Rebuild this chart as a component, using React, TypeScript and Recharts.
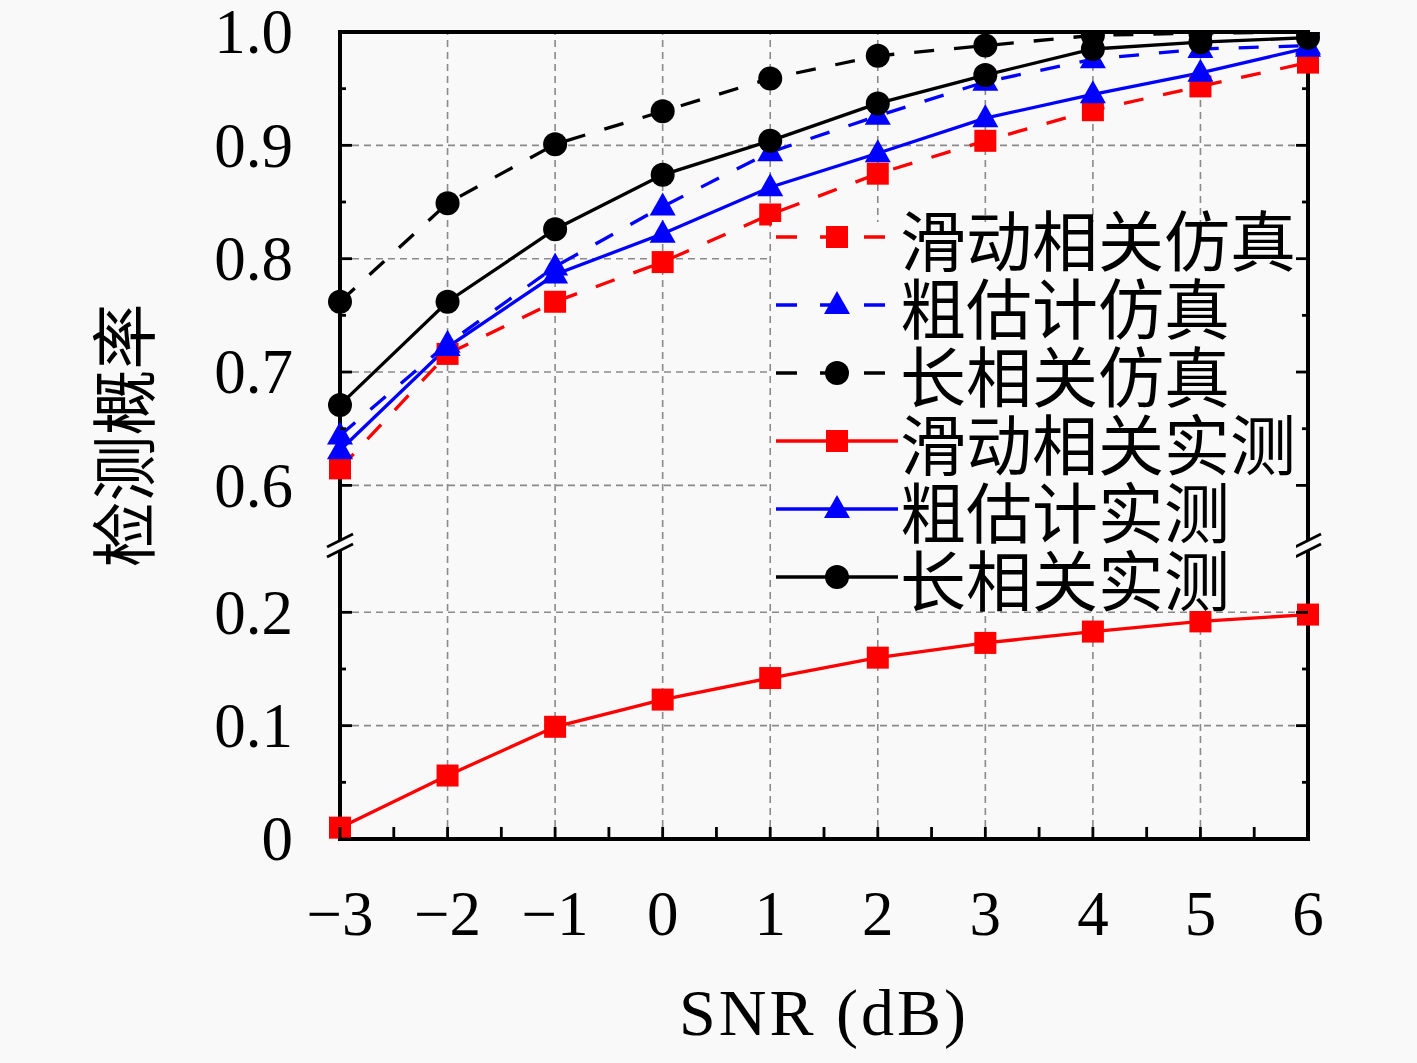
import React from 'react';
import { LineChart, Line, XAxis, YAxis, ReferenceLine, Legend } from 'recharts';

// SNR in dB
const snr = [-3, -2, -1, 0, 1, 2, 3, 4, 5, 6];

// detection probability
const slideSim = [0.615, 0.716, 0.762, 0.797, 0.839, 0.875, 0.904, 0.931, 0.952, 0.973];
const coarseSim = [0.644, 0.725, 0.793, 0.846, 0.894, 0.926, 0.956, 0.976, 0.985, 0.988];
const longSim = [0.762, 0.849, 0.901, 0.93, 0.959, 0.979, 0.988, 0.997, 0.999, 1.0];
const slideMeas = [0.01, 0.056, 0.099, 0.123, 0.142, 0.16, 0.173, 0.183, 0.192, 0.198];
const coarseMeas = [0.631, 0.722, 0.786, 0.822, 0.863, 0.893, 0.924, 0.945, 0.964, 0.986];
const longMeas = [0.671, 0.762, 0.826, 0.874, 0.904, 0.937, 0.962, 0.985, 0.991, 0.995];

const xTicks = [-3, -2.5, -2, -1.5, -1, -0.5, 0, 0.5, 1, 1.5, 2, 2.5, 3, 3.5, 4, 4.5, 5, 5.5, 6];
const xGrid = [-2, -1, 0, 1, 2, 3, 4, 5];
const yMajor = [0, 0.1, 0.2, 0.6, 0.7, 0.8, 0.9, 1.0];
const yMinor = [0.05, 0.15, 0.65, 0.75, 0.85, 0.95];
const yGrid = [0.1, 0.2, 0.6, 0.7, 0.8, 0.9];

// broken axis: the upper block is pulled down by GAP
const GAP = 0.288;
const BREAK = 0.259; // where the // marks sit, in axis units
const BREAK_HALF = 0.004;
const Y_TOP = 1.0 - GAP;
const X_MIN = -3;
const X_MAX = 6;
const toAxis = (v: number) => (v > 0.4 ? v - GAP : v);

const INK = '#000';
const BG = '#f9f9f9';
const RED = '#ff0000';
const BLUE = '#0000ff';
const GRID = '#8a8a8a';
const FRAME_W = 4;
const serif = '"Liberation Serif", "Times New Roman", serif';
const cjk = '"Noto Sans CJK SC", "Noto Sans CJK JP", sans-serif';

const series = [
  { key: 'slideSim', name: '滑动相关仿真', values: slideSim, color: RED, dashed: true, shape: 'square' },
  { key: 'coarseSim', name: '粗估计仿真', values: coarseSim, color: BLUE, dashed: true, shape: 'triangle' },
  { key: 'longSim', name: '长相关仿真', values: longSim, color: INK, dashed: true, shape: 'circle' },
  { key: 'slideMeas', name: '滑动相关实测', values: slideMeas, color: RED, dashed: false, shape: 'square' },
  { key: 'coarseMeas', name: '粗估计实测', values: coarseMeas, color: BLUE, dashed: false, shape: 'triangle' },
  { key: 'longMeas', name: '长相关实测', values: longMeas, color: INK, dashed: false, shape: 'circle' },
];

const rows = snr.map((s, i) => {
  const row: Record<string, number> = { snr: s };
  series.forEach((sr) => {
    row[sr.key] = toAxis(sr.values[i]);
  });
  return row;
});

const yTicks = [...yMajor.map(toAxis), ...yMinor.map(toAxis), BREAK].sort((a, b) => a - b);

function kindOf(t: number) {
  if (Math.abs(t - BREAK) < 1e-6) return { kind: 'break', real: 0 };
  const m = yMajor.find((v) => Math.abs(toAxis(v) - t) < 1e-6);
  if (m !== undefined) return { kind: 'major', real: m };
  return { kind: 'minor', real: 0 };
}

const Marker = ({ cx, cy, shape, color }: { cx: number; cy: number; shape: string; color: string }) => {
  if (shape === 'square') return <rect x={cx - 11} y={cy - 11} width={22} height={22} fill={color} />;
  if (shape === 'triangle')
    return <polygon points={`${cx},${cy - 14} ${cx - 13},${cy + 9} ${cx + 13},${cy + 9}`} fill={color} />;
  return <circle cx={cx} cy={cy} r={12} fill={color} />;
};

const renderDot = (shape: string, color: string) => (p: any) => {
  if (p.cx == null || p.cy == null) return <g key={p.index} />;
  return <Marker key={p.index} cx={p.cx} cy={p.cy} shape={shape} color={color} />;
};

const BreakMark = ({ x, y }: { x: number; y: number }) => (
  <g>
    <line x1={x - 13} y1={y + 6.5} x2={x + 13} y2={y - 6.5} stroke={BG} strokeWidth={8} />
    <line x1={x - 13} y1={y + 11.5} x2={x + 13} y2={y - 1.5} stroke={INK} strokeWidth={2.8} />
    <line x1={x - 13} y1={y + 1.5} x2={x + 13} y2={y - 11.5} stroke={INK} strokeWidth={2.8} />
  </g>
);

const LeftTick = (props: any) => {
  const { x, y, payload } = props;
  const k = kindOf(payload.value);
  if (k.kind === 'break') return <BreakMark x={x} y={y} />;
  if (k.kind === 'minor') return <line x1={x} y1={y} x2={x + 6} y2={y} stroke={INK} strokeWidth={2.8} />;
  return (
    <g>
      <line x1={x} y1={y} x2={x + 12} y2={y} stroke={INK} strokeWidth={2.8} />
      <text x={x - 47} y={y} dy="0.34em" textAnchor="end" fontFamily={serif} fontSize={63} fill={INK}>
        {k.real === 0 ? '0' : k.real.toFixed(1)}
      </text>
    </g>
  );
};

const RightTick = (props: any) => {
  const { x, y, payload } = props;
  const k = kindOf(payload.value);
  if (k.kind === 'break') return <BreakMark x={x} y={y} />;
  const len = k.kind === 'minor' ? 6 : 12;
  return <line x1={x} y1={y} x2={x - len} y2={y} stroke={INK} strokeWidth={2.8} />;
};

const BottomTick = (props: any) => {
  const { x, y, payload } = props;
  const v = payload.value as number;
  const isMajor = Number.isInteger(v);
  return (
    <g>
      <line x1={x} y1={y} x2={x} y2={y - 12} stroke={INK} strokeWidth={2.8} />
      {isMajor && (
        <text x={x} y={y + 96} textAnchor="middle" fontFamily={serif} fontSize={63} fill={INK}>
          {v < 0 ? `\u2212${Math.abs(v)}` : String(v)}
        </text>
      )}
    </g>
  );
};

const XLabel = (props: any) => {
  const vb = props.viewBox;
  return (
    <text x={vb.x + vb.width / 2} y={vb.y + 196} textAnchor="middle" fontFamily={serif} fontSize={66} letterSpacing={3} fill={INK}>
      SNR (dB)
    </text>
  );
};

const YLabel = (props: any) => {
  const vb = props.viewBox;
  const cx = vb.x + 120;
  const cy = vb.y + vb.height / 2;
  return (
    <text x={cx} y={cy} transform={`rotate(-90, ${cx}, ${cy})`} textAnchor="middle" dominantBaseline="central" fontFamily={cjk} fontSize={66} fill={INK}>
      检测概率
    </text>
  );
};

// legend box is opaque only below its top edge; the first row's glyphs poke above it
const LegendBox = () => (
  <div style={{ background: `linear-gradient(to bottom, transparent 19px, ${BG} 19px)` }}>
    {series.map((s) => (
      <div key={s.key} style={{ display: 'flex', alignItems: 'center', height: 68 }}>
        <svg width={128} height={68} style={{ display: 'block', flex: 'none' }}>
          <line x1={4} y1={34} x2={126} y2={34} stroke={s.color} strokeWidth={3.3} strokeDasharray={s.dashed ? '21 23' : undefined} />
          <Marker cx={65} cy={34} shape={s.shape} color={s.color} />
        </svg>
        <span style={{ fontFamily: cjk, fontSize: 66, lineHeight: '68px', color: INK, whiteSpace: 'nowrap' }}>{s.name}</span>
      </div>
    ))}
  </div>
);

// frame pieces; the two sides are split at the break
const frameSegments = [
  [{ x: X_MIN, y: 0 }, { x: X_MAX, y: 0 }],
  [{ x: X_MIN, y: Y_TOP }, { x: X_MAX, y: Y_TOP }],
  [{ x: X_MIN, y: 0 }, { x: X_MIN, y: BREAK - BREAK_HALF }],
  [{ x: X_MIN, y: BREAK + BREAK_HALF }, { x: X_MIN, y: Y_TOP }],
  [{ x: X_MAX, y: 0 }, { x: X_MAX, y: BREAK - BREAK_HALF }],
  [{ x: X_MAX, y: BREAK + BREAK_HALF }, { x: X_MAX, y: Y_TOP }],
];

export default function App() {
  return (
    <div style={{ position: 'absolute', left: 0, top: 0, width: 1417, height: 1063, background: BG }}>
      <LineChart width={1417} height={1063} data={rows} margin={{ top: 32, right: 108, left: 0, bottom: 0 }}>
        {xGrid.map((g) => (
          <ReferenceLine key={`gx${g}`} x={g} stroke={GRID} strokeWidth={1.6} strokeDasharray="7 5" />
        ))}
        {yGrid.map((g) => (
          <ReferenceLine key={`gy${g}`} y={toAxis(g)} stroke={GRID} strokeWidth={1.6} strokeDasharray="7 5" />
        ))}
        <XAxis
          dataKey="snr"
          type="number"
          domain={[X_MIN, X_MAX]}
          ticks={xTicks}
          interval={0}
          height={224}
          tickSize={0}
          tickMargin={0}
          tickLine={false}
          axisLine={false}
          tick={<BottomTick />}
          label={<XLabel />}
        />
        <YAxis
          type="number"
          domain={[0, Y_TOP]}
          allowDataOverflow
          ticks={yTicks}
          interval={0}
          width={340}
          tickSize={0}
          tickMargin={0}
          tickLine={false}
          axisLine={false}
          tick={<LeftTick />}
          label={<YLabel />}
        />
        <YAxis
          yAxisId="right"
          orientation="right"
          type="number"
          domain={[0, Y_TOP]}
          allowDataOverflow
          ticks={yTicks}
          interval={0}
          width={1}
          tickSize={0}
          tickMargin={0}
          tickLine={false}
          axisLine={false}
          tick={<RightTick />}
        />
        {frameSegments.map((seg, i) => (
          <ReferenceLine key={`f${i}`} segment={seg} stroke={INK} strokeWidth={FRAME_W} strokeLinecap="square" ifOverflow="visible" />
        ))}
        {series.map((s) => (
          <Line
            key={s.key}
            type="linear"
            dataKey={s.key}
            name={s.name}
            stroke={s.color}
            strokeWidth={3.3}
            strokeDasharray={s.dashed ? '20 20' : undefined}
            dot={renderDot(s.shape, s.color)}
            activeDot={false}
            isAnimationActive={false}
          />
        ))}
        <Legend
          layout="vertical"
          align="center"
          verticalAlign="middle"
          wrapperStyle={{ position: 'absolute', left: 772, top: 203, width: 524, height: 408 }}
          content={() => <LegendBox />}
        />
      </LineChart>
    </div>
  );
}
